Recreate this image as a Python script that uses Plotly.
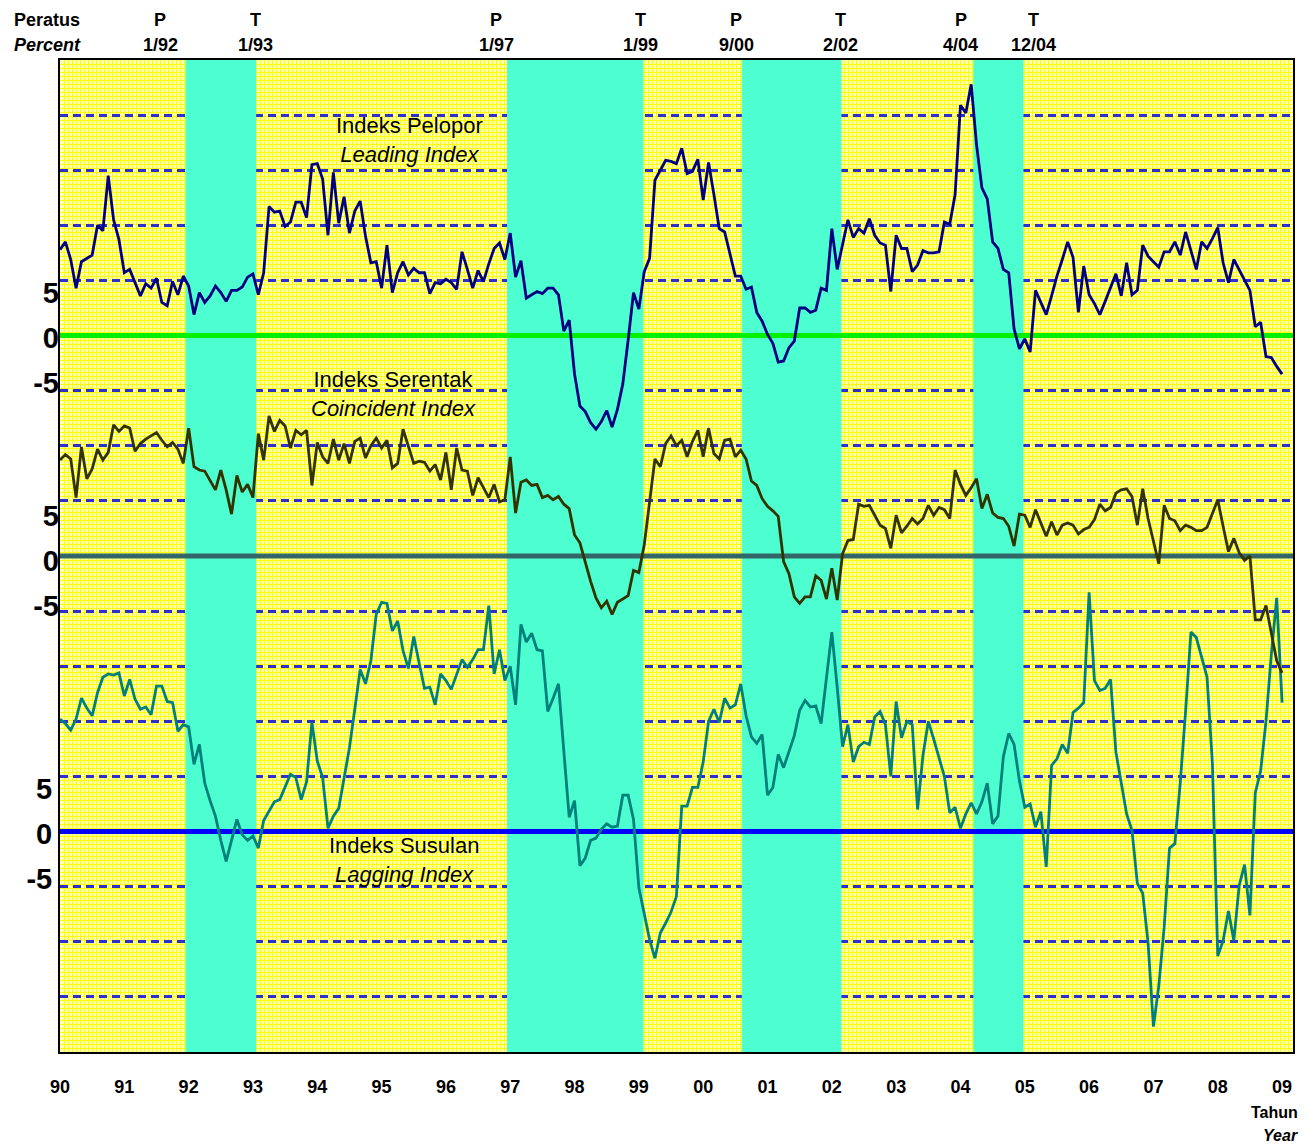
import plotly.graph_objects as go

# ---------------- data (monthly, Jan 1990 .. Jan 2009), percent ----------------
start_year = 1990
leading = [
    7.8, 8.5, 6.9, 4.3, 6.7, 7.0, 7.3, 10.0, 9.5, 14.5, 10.5, 8.7,
    5.7, 6.0, 4.8, 3.6, 4.7, 4.3, 5.2, 3.0, 2.7, 4.9, 3.7, 5.4,
    4.5, 1.9, 3.9, 3.0, 3.6, 4.5, 3.9, 3.1, 4.1, 4.1, 4.4, 5.3,
    5.6, 3.7, 5.7, 11.7, 11.2, 11.3, 9.9, 10.3, 12.1, 12.1, 10.7, 15.5,
    15.6, 14.2, 9.1, 14.8, 10.2, 12.6, 9.3, 11.3, 12.2, 9.0, 6.6, 6.7,
    4.3, 8.2, 3.9, 5.7, 6.7, 5.5, 6.1, 5.7, 5.7, 3.8, 4.8, 4.7,
    5.1, 4.8, 4.2, 7.6, 6.0, 4.3, 5.9, 4.9, 6.5, 7.9, 8.4, 6.9,
    9.3, 5.3, 6.8, 3.4, 3.7, 4.0, 3.8, 4.3, 4.3, 3.7, 0.4, 1.4,
    -3.5, -6.4, -6.9, -7.9, -8.5, -7.8, -6.8, -8.3, -6.7, -4.4, -0.4, 3.9,
    2.4, 5.8, 7.0, 14.1, 15.0, 15.9, 15.8, 15.6, 17.0, 14.7, 14.9, 16.0,
    12.3, 15.7, 12.8, 9.7, 9.4, 7.3, 5.4, 5.4, 4.2, 4.4, 2.1, 1.3,
    0.1, -0.7, -2.4, -2.3, -1.1, -0.5, 2.5, 2.5, 2.1, 2.3, 4.3, 4.1,
    9.7, 6.0, 8.2, 10.5, 8.9, 9.7, 9.3, 10.6, 9.1, 8.4, 8.2, 4.0,
    9.1, 7.9, 7.9, 5.8, 6.4, 7.7, 7.5, 7.5, 7.6, 10.3, 10.1, 12.8,
    20.9, 20.2, 22.8, 17.3, 13.4, 12.4, 8.5, 7.9, 6.0, 5.7, 0.6, -1.2,
    -0.3, -1.5, 4.1, 3.0, 1.9, 3.6, 5.4, 6.9, 8.5, 7.1, 2.1, 6.3,
    3.7, 2.9, 1.9, 3.1, 4.3, 5.6, 3.6, 6.6, 3.7, 4.1, 8.2, 7.2,
    6.7, 6.2, 7.6, 7.6, 8.5, 7.3, 9.4, 7.6, 6.0, 8.5, 7.9, 8.8,
    9.8, 6.6, 4.8, 6.9, 6.0, 5.0, 4.1, 0.8, 1.2, -1.9, -2.0, -2.8, -3.5,
]
coincident = [
    8.7, 9.2, 8.8, 5.3, 9.9, 7.0, 7.9, 9.7, 8.7, 9.4, 11.9, 11.3,
    11.8, 11.6, 9.5, 10.2, 10.6, 10.9, 11.2, 10.5, 9.9, 10.3, 9.7, 8.4,
    11.6, 8.1, 7.8, 7.7, 6.9, 6.0, 7.8, 6.0, 3.8, 7.3, 5.8, 6.5,
    5.3, 11.1, 8.7, 12.7, 11.3, 12.3, 11.8, 9.8, 11.4, 11.0, 11.4, 6.4,
    10.3, 9.0, 8.4, 10.6, 8.7, 10.2, 8.4, 10.4, 10.7, 8.9, 10.0, 10.7,
    9.8, 10.5, 8.0, 8.4, 11.5, 9.9, 8.4, 8.6, 8.5, 7.7, 8.3, 6.9,
    9.4, 6.0, 9.8, 7.8, 7.7, 5.5, 7.1, 6.2, 5.3, 6.5, 4.9, 5.1,
    9.0, 3.9, 6.7, 6.9, 6.4, 6.5, 5.3, 5.5, 5.1, 5.4, 4.7, 4.3,
    1.9, 1.2, -0.6, -2.3, -3.8, -4.7, -4.1, -5.3, -4.2, -3.9, -3.6, -1.3,
    -1.5, 1.0, 5.0, 8.8, 8.1, 10.2, 10.9, 10.0, 10.5, 9.0, 10.4, 11.4,
    9.0, 11.6, 9.3, 8.8, 10.5, 10.6, 9.0, 9.6, 8.8, 6.8, 6.4, 5.2,
    4.5, 4.1, 3.6, -0.5, -1.6, -3.7, -4.3, -3.7, -3.7, -1.8, -2.2, -3.9,
    -1.1, -4.0, 0.2, 1.4, 1.5, 4.7, 4.5, 4.6, 3.7, 2.8, 2.5, 0.7,
    3.7, 2.1, 2.7, 3.4, 2.9, 3.4, 4.6, 3.7, 4.4, 4.2, 3.4, 7.8,
    6.5, 5.5, 6.2, 7.0, 4.3, 5.6, 3.9, 3.5, 3.4, 2.7, 0.9, 3.8,
    3.7, 2.6, 4.2, 3.0, 1.8, 3.1, 1.9, 2.8, 3.0, 2.8, 2.0, 2.4,
    2.6, 3.3, 4.7, 4.1, 4.4, 5.7, 6.0, 6.1, 5.4, 2.8, 6.1, 3.4,
    1.4, -0.7, 4.6, 3.4, 3.2, 2.3, 2.8, 2.6, 2.3, 2.3, 2.6, 3.8,
    5.1, 2.7, 0.4, 1.6, 0.3, -0.4, 0.0, -5.8, -5.8, -4.5, -6.9, -9.5, -10.6,
]
lagging = [
    10.2, 9.8, 9.2, 10.2, 12.1, 11.2, 10.5, 12.6, 14.0, 14.3, 14.2, 14.4,
    12.3, 13.8, 12.0, 11.1, 11.3, 10.6, 13.2, 13.2, 11.8, 11.7, 9.1, 9.7,
    9.5, 6.1, 7.9, 4.4, 2.8, 1.4, -0.8, -2.7, -0.8, 1.1, -0.3, -0.8,
    -0.4, -1.5, 1.0, 1.9, 2.7, 2.9, 4.0, 5.2, 4.9, 2.9, 4.5, 9.9,
    6.4, 4.9, 0.3, 1.4, 2.1, 4.8, 7.6, 11.1, 14.7, 13.4, 15.5, 19.7,
    20.8, 20.7, 18.2, 19.1, 16.4, 14.8, 17.7, 15.3, 13.0, 13.1, 11.5, 14.3,
    13.7, 12.9, 14.2, 15.6, 14.9, 15.6, 16.5, 16.5, 20.5, 14.3, 16.5, 13.7,
    15.0, 11.5, 18.8, 17.2, 18.0, 16.5, 16.4, 10.9, 12.1, 13.4, 7.3, 1.3,
    2.8, -3.1, -2.4, -0.8, -0.6, 0.2, 0.7, 0.4, 0.5, 3.3, 3.3, 1.1,
    -5.1, -7.6, -9.8, -11.5, -9.2, -8.3, -7.3, -5.9, 2.3, 2.3, 4.0, 4.0,
    6.3, 10.0, 11.1, 9.9, 12.1, 11.2, 11.5, 13.4, 10.5, 8.6, 8.0, 8.8,
    3.3, 4.0, 7.0, 5.8, 7.2, 8.7, 11.0, 11.9, 11.3, 11.4, 9.8, 14.0,
    18.1, 13.1, 7.7, 9.7, 6.3, 7.7, 8.1, 7.9, 10.4, 10.9, 9.7, 5.0,
    11.8, 8.5, 10.0, 9.7, 2.0, 6.9, 10.0, 8.4, 6.7, 5.0, 1.7, 2.2,
    0.3, 1.6, 2.6, 1.6, 2.7, 4.4, 0.7, 1.4, 6.8, 8.9, 7.9, 4.6,
    2.2, 2.5, 0.4, 1.8, -3.2, 6.0, 6.6, 7.9, 7.1, 10.8, 11.2, 11.7,
    21.7, 13.7, 12.8, 13.0, 13.8, 7.2, 4.4, 1.6, 0.1, -4.7, -5.6, -10.1,
    -17.7, -14.0, -8.7, -1.5, -1.1, 4.4, 10.9, 18.1, 17.6, 15.8, 14.0, 6.2,
    -11.3, -9.9, -7.2, -9.9, -4.9, -3.0, -7.6, 3.5, 5.5, 10.0, 16.1, 21.2, 11.7,
]

# business-cycle phases: peak (P) -> trough (T), decimal years
phase_start = [1991.95, 1996.95, 2000.60, 2004.20]
phase_end = [1993.05, 1999.07, 2002.15, 2004.98]
turn_letters = ["P", "T", "P", "T", "P", "T", "P", "T"]
turn_dates = ["1/92", "1/93", "1/97", "1/99", "9/00", "2/02", "4/04", "12/04"]

year_ticks = list(range(1990, 2010))
year_labels = [str(y)[2:] for y in year_ticks]
value_labels = ["-5", "0", "5"]

# ---------------- figure ----------------
months = [start_year + i / 12 for i in range(len(leading))]
FONT = "Liberation Sans, Arial, Helvetica, sans-serif"

W, H = 1299, 1136
ML, MR, MT, MB = 52, 14, 52, 92
plot_w, plot_h = W - ML - MR, H - MT - MB

x_range = [1990, 2009.17]
lag_range = [-20, 70]      # main axis (lagging index)
coin_range = [-45, 45]     # coincident index, same scale, shifted
lead_range = [-65, 25]     # leading index, same scale, shifted
coin_off = lag_range[0] - coin_range[0]
lead_off = lag_range[0] - lead_range[0]
# the printed "-5 / 0 / 5" labels sit slightly squeezed toward each zero line
label_pos = [-4.3, -0.2, 3.9]
label_pos_coin = [-4.5, -0.4, 3.6]

# fine background texture: one thin line every 4 screen pixels
tex_px = 4
tex_dx = (x_range[1] - x_range[0]) * tex_px / plot_w
tex_dy = (lag_range[1] - lag_range[0]) * tex_px / plot_h

fig = go.Figure()
fig.add_trace(go.Scatter(x=months, y=lagging, mode="lines", yaxis="y",
                         line=dict(color="#00807C", width=2.8), name="Lagging"))
fig.add_trace(go.Scatter(x=months, y=coincident, mode="lines", yaxis="y2",
                         line=dict(color="#333300", width=2.8), name="Coincident"))
fig.add_trace(go.Scatter(x=months, y=leading, mode="lines", yaxis="y3",
                         line=dict(color="#000080", width=2.8), name="Leading"))

shapes = []
for a, b in zip(phase_start, phase_end):
    shapes.append(dict(type="rect", xref="x", yref="y", x0=a, x1=b,
                       y0=lag_range[0], y1=lag_range[1],
                       fillcolor="#4DFFD0", line=dict(width=0), layer="between"))
for off, col in ((lead_off, "#00F000"), (coin_off, "#336666"), (0, "#0000FF")):
    shapes.append(dict(type="line", xref="x", yref="y", x0=x_range[0], x1=x_range[1],
                       y0=off, y1=off, line=dict(color=col, width=5), layer="between"))

tickfont = dict(family=FONT, size=29, color="black", weight="bold")
texture = "#FFFF00"
dash_col = "#2F2FCC"

fig.update_layout(
    width=W, height=H,
    margin=dict(l=ML, r=MR, t=MT, b=MB, autoexpand=False),
    paper_bgcolor="white",
    plot_bgcolor="#FFFFB0",
    showlegend=False,
    shapes=shapes,
    font=dict(family=FONT, color="black"),
    xaxis=dict(range=x_range, tickvals=year_ticks, ticktext=year_labels,
               tickfont=dict(family=FONT, size=18, color="black", weight="bold"),
               showgrid=False,
               minor=dict(tick0=x_range[0], dtick=tex_dx, showgrid=True,
                          gridcolor=texture, gridwidth=1),
               showline=True, linecolor="black", linewidth=2, mirror=True,
               ticks="outside", ticklen=17, tickcolor="rgba(0,0,0,0)",
               zeroline=False, fixedrange=True),
    yaxis=dict(range=lag_range, tickvals=label_pos, ticktext=value_labels,
               tickfont=tickfont, showgrid=False, zeroline=False,
               minor=dict(tick0=lag_range[0], dtick=tex_dy, showgrid=True,
                          gridcolor=texture, gridwidth=1),
               showline=True, linecolor="black", linewidth=2, mirror=True,
               ticks="", fixedrange=True),
    yaxis2=dict(range=coin_range, overlaying="y", tickvals=label_pos_coin, ticktext=value_labels,
                tickfont=tickfont, showgrid=False, zeroline=False, side="left",
                minor=dict(dtick=5, tick0=0, showgrid=True, gridcolor=dash_col,
                           gridwidth=2.6, griddash="8px,5px"),
                ticks="", fixedrange=True),
    yaxis3=dict(range=lead_range, overlaying="y", tickvals=label_pos, ticktext=value_labels,
                tickfont=tickfont, showgrid=False, zeroline=False, side="left",
                ticks="", fixedrange=True),
)

# ---------------- text ----------------
ann = []
label_x = [1991.555, 1993.047, 1996.779, 1999.018, 2000.51, 2002.142, 2004.008, 2005.143]
for lx, letter, date in zip(label_x, turn_letters, turn_dates):
    ann.append(dict(x=lx, y=1.0403, xref="x", yref="paper", text=f"<b>{letter}</b>",
                    xanchor="center", yanchor="middle", showarrow=False, font=dict(size=18)))
    ann.append(dict(x=lx, y=1.0151, xref="x", yref="paper", text=f"<b>{date}</b>",
                    xanchor="center", yanchor="middle", showarrow=False, font=dict(size=18)))
ann.append(dict(x=-0.0389, y=1.0403, xref="paper", yref="paper", text="<b>Peratus</b>",
                xanchor="left", yanchor="middle", showarrow=False, font=dict(size=18)))
ann.append(dict(x=-0.0389, y=1.0151, xref="paper", yref="paper", text="<b><i>Percent</i></b>",
                xanchor="left", yanchor="middle", showarrow=False, font=dict(size=18)))
ann.append(dict(x=1.0057, y=-0.0605, xref="paper", yref="paper", text="<b>Tahun</b>",
                xanchor="right", yanchor="middle", showarrow=False, font=dict(size=16)))
ann.append(dict(x=1.0057, y=-0.0837, xref="paper", yref="paper", text="<b><i>Year</i></b>",
                xanchor="right", yanchor="middle", showarrow=False, font=dict(size=16)))
series_text = [
    (1995.44, 0.9194, "Indeks Pelopor<br><i>Leading Index</i>"),
    (1995.18, 0.6638, "Indeks Serentak<br><i>Coincident Index</i>"),
    (1995.35, 0.1940, "Indeks Susulan<br><i>Lagging Index</i>"),
]
for sx, sy, t in series_text:
    ann.append(dict(x=sx, y=sy, xref="x", yref="paper", text=t, showarrow=False,
                    xanchor="center", yanchor="middle", align="center",
                    font=dict(size=22)))
fig.update_layout(annotations=ann)

fig.write_html("out.html")
